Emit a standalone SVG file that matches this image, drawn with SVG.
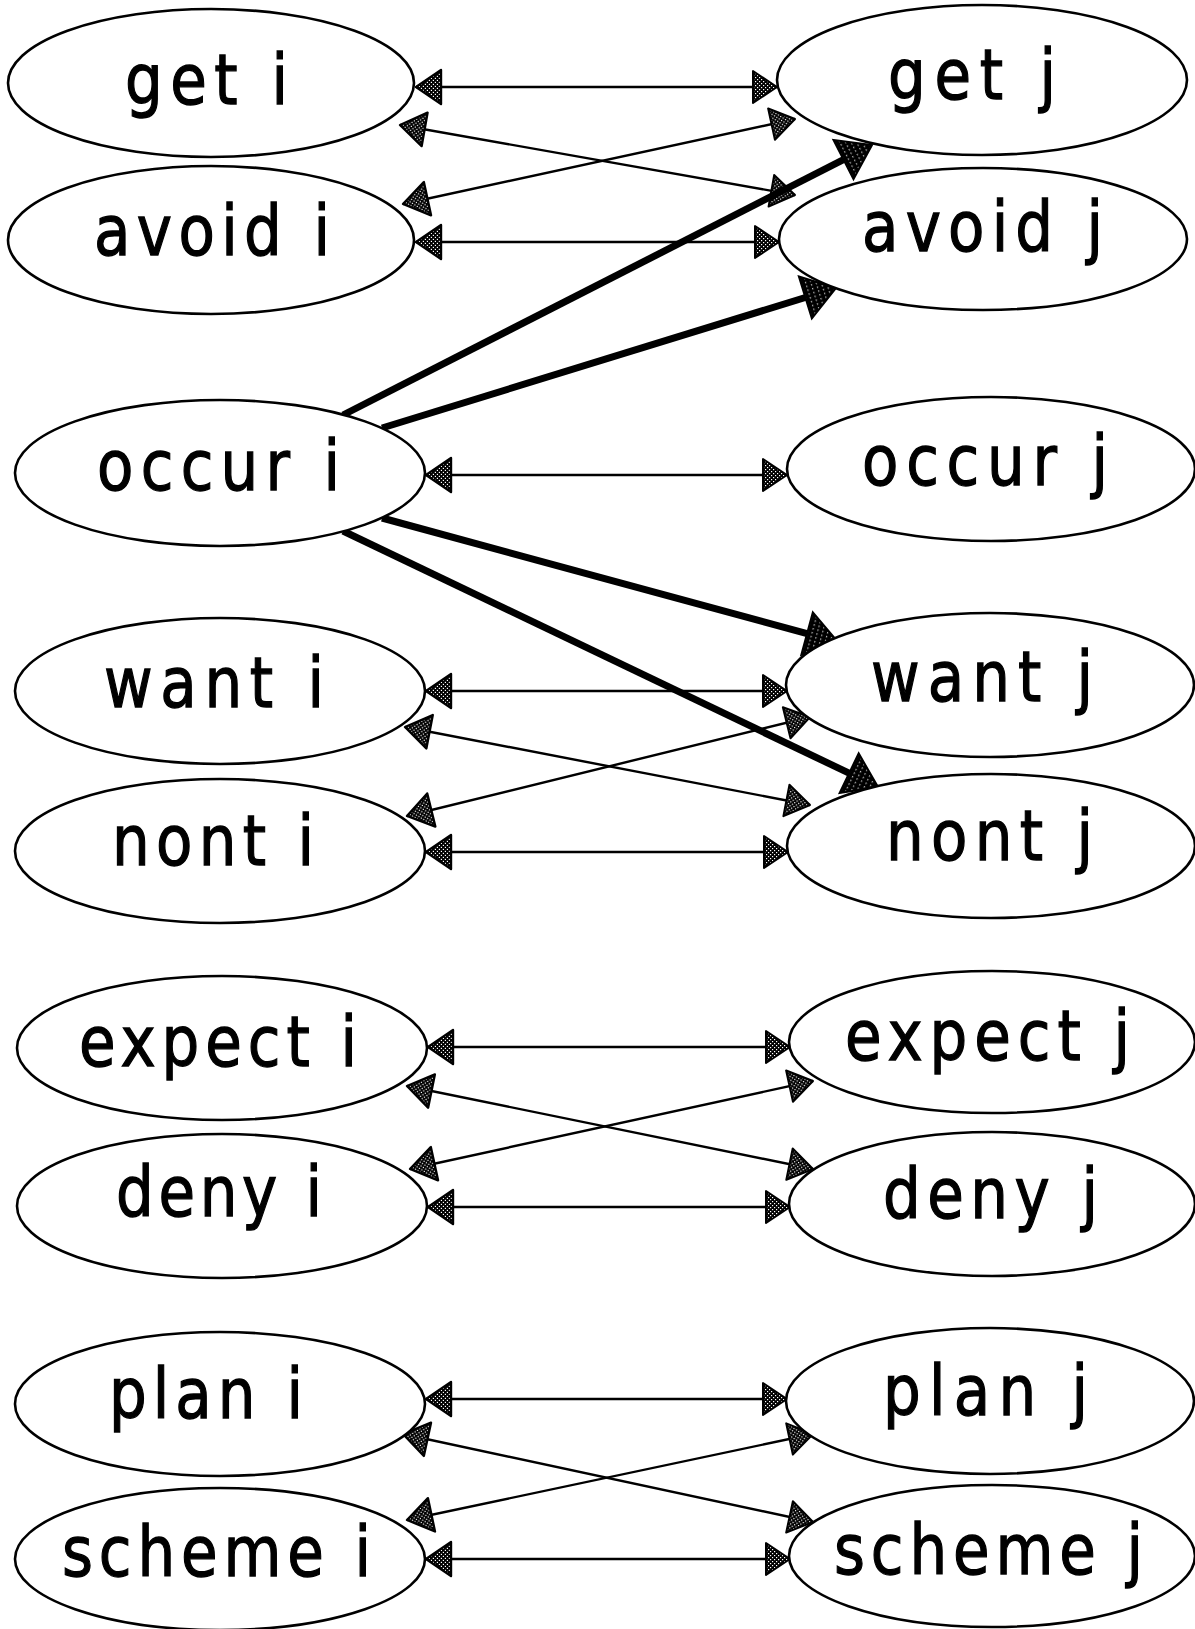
<svg xmlns="http://www.w3.org/2000/svg" width="1195" height="1629" viewBox="0 0 1195 1629">
  <style>
    .node ellipse { fill: #fff; stroke: #000; stroke-width: 2.6; }
    .node text { font-family: "DejaVu Sans", "Liberation Sans", sans-serif; font-size: 70px; fill: #000; stroke: #000; stroke-width: 1.3; }
    .thin { stroke: #000; stroke-width: 2.4; fill: none; marker-start: url(#headL); marker-end: url(#headR); }
    .bold { stroke: #000; stroke-width: 7; fill: none; marker-end: url(#headBold); }
  </style>
  <defs>
    <!-- coarse stipple used inside the small arrowheads -->
    <pattern id="dots" width="4" height="4" patternUnits="userSpaceOnUse">
      <rect width="4" height="4" fill="#000"/>
      <rect x="0" y="0" width="1.2" height="1.2" fill="#fff"/>
      <rect x="2" y="2" width="1.2" height="1.2" fill="#fff"/>
    </pattern>
    <!-- near-black fill with faint dotted streaks for the heavy arrowheads -->
    <pattern id="streak" width="5" height="4" patternUnits="userSpaceOnUse">
      <rect width="5" height="4" fill="#000"/>
      <rect x="2" y="1" width="1.2" height="1.5" fill="#bbb"/>
    </pattern>
    <marker id="headL" markerUnits="userSpaceOnUse" orient="auto-start-reverse" overflow="visible" markerWidth="1" markerHeight="1" refX="0" refY="0">
      <path d="M0,0 L-25,-17 L-25,17 Z" fill="url(#dots)" stroke="#000" stroke-width="2.4" stroke-linejoin="round"/>
    </marker>
    <marker id="headR" markerUnits="userSpaceOnUse" orient="auto" overflow="visible" markerWidth="1" markerHeight="1" refX="0" refY="0">
      <path d="M0,0 L-24,-16 L-24,16 Z" fill="url(#dots)" stroke="#000" stroke-width="2" stroke-linejoin="round"/>
    </marker>
    <marker id="headBold" markerUnits="userSpaceOnUse" orient="auto" overflow="visible" markerWidth="1" markerHeight="1" refX="0" refY="0">
      <path d="M-22,-22 L10,0 L-22,22 Z" fill="url(#streak)" stroke="#000" stroke-width="2"/>
    </marker>
  </defs>

  <!-- connectors -->
  <g id="connectors">
    <!-- get / avoid pair -->
    <line class="thin" x1="416" y1="87" x2="777" y2="87"/>
    <line class="thin" x1="416" y1="242" x2="779" y2="242"/>
    <line class="thin" x1="400" y1="125" x2="795" y2="195"/>
    <line class="thin" x1="403" y1="204" x2="795" y2="119"/>
    <!-- occur -->
    <line class="thin" x1="426" y1="475" x2="787" y2="475"/>
    <!-- want / nont pair -->
    <line class="thin" x1="426" y1="691" x2="787" y2="691"/>
    <line class="thin" x1="426" y1="852" x2="788" y2="852"/>
    <line class="thin" x1="405" y1="727" x2="810" y2="805"/>
    <line class="thin" x1="407" y1="816" x2="810" y2="717"/>
    <!-- expect / deny pair -->
    <line class="thin" x1="428" y1="1047" x2="790" y2="1047"/>
    <line class="thin" x1="428" y1="1207" x2="790" y2="1207"/>
    <line class="thin" x1="407" y1="1086" x2="813" y2="1169"/>
    <line class="thin" x1="410" y1="1169" x2="813" y2="1081"/>
    <!-- plan / scheme pair -->
    <line class="thin" x1="426" y1="1399" x2="787" y2="1399"/>
    <line class="thin" x1="426" y1="1559" x2="790" y2="1559"/>
    <line class="thin" x1="403" y1="1434" x2="813" y2="1522"/>
    <line class="thin" x1="407" y1="1520" x2="813" y2="1434"/>
    <!-- heavy arrows out of occur i -->
    <line class="bold" x1="343" y1="415" x2="863.1" y2="149.6"/>
    <line class="bold" x1="382" y1="428" x2="826.4" y2="291"/>
    <line class="bold" x1="382" y1="518" x2="828.3" y2="639.4"/>
    <line class="bold" x1="343" y1="531" x2="869" y2="782.7"/>
  </g>

  <!-- left column (labels narrowed to 85% and spread to their box width) -->
  <g id="get_i" class="node"><ellipse cx="211" cy="83" rx="203" ry="74"/><text transform="translate(125,104) scale(0.85,1)" textLength="191.8" lengthAdjust="spacing">get i</text></g>
  <g id="avoid_i" class="node"><ellipse cx="211" cy="240" rx="203" ry="74"/><text transform="translate(94,255) scale(0.85,1)" textLength="277.6" lengthAdjust="spacing">avoid i</text></g>
  <g id="occur_i" class="node"><ellipse cx="220" cy="473" rx="205" ry="73"/><text transform="translate(97,490) scale(0.85,1)" textLength="285.9" lengthAdjust="spacing">occur i</text></g>
  <g id="want_i" class="node"><ellipse cx="220" cy="691" rx="205" ry="73"/><text transform="translate(104,707) scale(0.85,1)" textLength="258.8" lengthAdjust="spacing">want i</text></g>
  <g id="nont_i" class="node"><ellipse cx="220" cy="851" rx="205" ry="72"/><text transform="translate(112,865) scale(0.85,1)" textLength="237.6" lengthAdjust="spacing">nont i</text></g>
  <g id="expect_i" class="node"><ellipse cx="222" cy="1048" rx="205" ry="72"/><text transform="translate(79,1066) scale(0.85,1)" textLength="327.1" lengthAdjust="spacing">expect i</text></g>
  <g id="deny_i" class="node"><ellipse cx="222" cy="1206" rx="205" ry="72"/><text transform="translate(116,1216) scale(0.85,1)" textLength="242.4" lengthAdjust="spacing">deny i</text></g>
  <g id="plan_i" class="node"><ellipse cx="220" cy="1404" rx="205" ry="72"/><text transform="translate(109,1418) scale(0.85,1)" textLength="228.2" lengthAdjust="spacing">plan i</text></g>
  <g id="scheme_i" class="node"><ellipse cx="220" cy="1559" rx="205" ry="71"/><text transform="translate(62,1576) scale(0.85,1)" textLength="363.5" lengthAdjust="spacing">scheme i</text></g>

  <!-- right column -->
  <g id="get_j" class="node"><ellipse cx="982" cy="80" rx="205" ry="75"/><text transform="translate(888,99) scale(0.85,1)" textLength="197.6" lengthAdjust="spacing">get j</text></g>
  <g id="avoid_j" class="node"><ellipse cx="983" cy="239" rx="204" ry="71"/><text transform="translate(862,251) scale(0.85,1)" textLength="283.5" lengthAdjust="spacing">avoid j</text></g>
  <g id="occur_j" class="node"><ellipse cx="991" cy="469" rx="204" ry="72"/><text transform="translate(862,485) scale(0.85,1)" textLength="289.4" lengthAdjust="spacing">occur j</text></g>
  <g id="want_j" class="node"><ellipse cx="990" cy="685" rx="204" ry="72"/><text transform="translate(871,701) scale(0.85,1)" textLength="261.2" lengthAdjust="spacing">want j</text></g>
  <g id="nont_j" class="node"><ellipse cx="991" cy="846" rx="204" ry="72"/><text transform="translate(886,860) scale(0.85,1)" textLength="243.5" lengthAdjust="spacing">nont j</text></g>
  <g id="expect_j" class="node"><ellipse cx="992" cy="1042" rx="203" ry="71"/><text transform="translate(845,1060) scale(0.85,1)" textLength="335.3" lengthAdjust="spacing">expect j</text></g>
  <g id="deny_j" class="node"><ellipse cx="992" cy="1204" rx="203" ry="72"/><text transform="translate(883,1218) scale(0.85,1)" textLength="252.9" lengthAdjust="spacing">deny j</text></g>
  <g id="plan_j" class="node"><ellipse cx="990" cy="1401" rx="204" ry="73"/><text transform="translate(883,1415) scale(0.85,1)" textLength="241.2" lengthAdjust="spacing">plan j</text></g>
  <g id="scheme_j" class="node"><ellipse cx="992" cy="1556" rx="203" ry="71"/><text transform="translate(834,1574) scale(0.85,1)" textLength="363.5" lengthAdjust="spacing">scheme j</text></g>
</svg>
